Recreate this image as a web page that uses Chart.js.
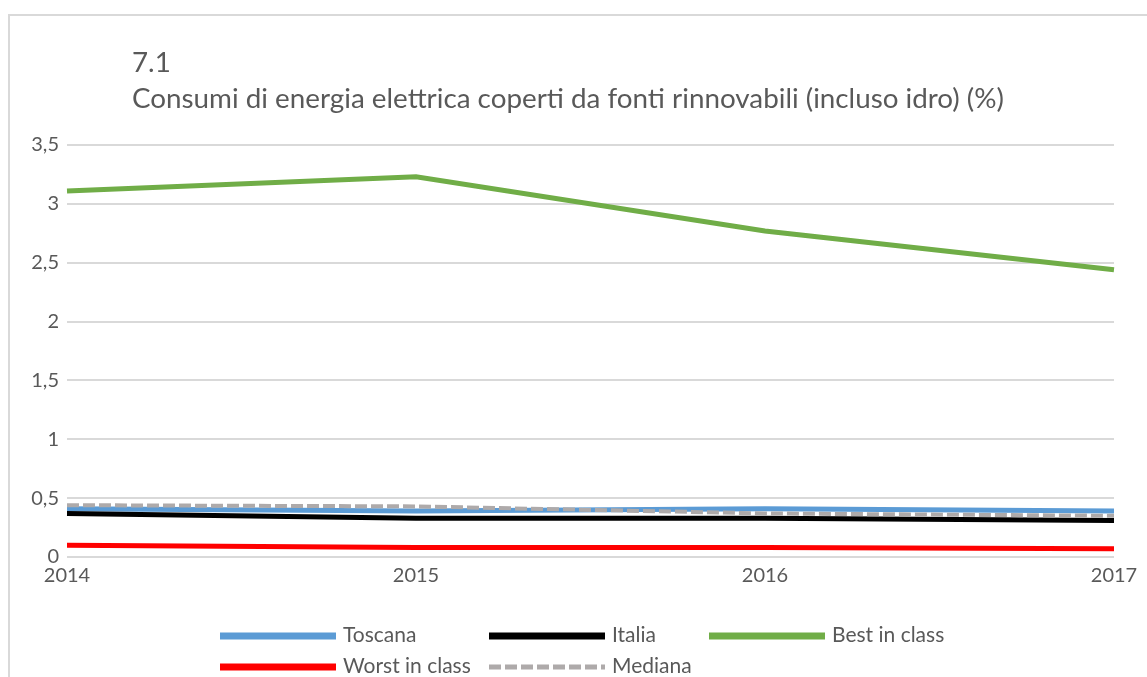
<!DOCTYPE html>
<html lang="it">
<head>
<meta charset="utf-8">
<title>7.1 Consumi di energia elettrica coperti da fonti rinnovabili</title>
<script src="https://cdn.jsdelivr.net/npm/chart.js@4/dist/chart.umd.min.js"></script>
<style>
  html, body { margin: 0; padding: 0; background: #ffffff; overflow: hidden; }
  #wrap { position: relative; width: 1147px; height: 677px; }
  #frame {
    position: absolute; left: 8px; top: 14px; width: 1200px; height: 700px;
    border: 2px solid #d9d9d9; box-sizing: border-box;
  }
  #chart { position: absolute; left: 0; top: 0; }
  .title {
    position: absolute; left: 132px; color: #595959; line-height: 1;
    font-family: Lato, "Open Sans", sans-serif; font-size: 27.8px; white-space: nowrap;
  }
</style>
</head>
<body>
<div id="wrap">
  <div id="frame"></div>
  <canvas id="chart" width="1147" height="677"></canvas>
  <div class="title" id="t1" style="top:48px;">7.1</div>
  <div class="title" id="t2" style="top:84px;">Consumi di energia elettrica coperti da fonti rinnovabili (incluso idro) (%)</div>
</div>
<script>
// Anni sull'asse orizzontale
const years = ['2014', '2015', '2016', '2017'];

// Quota di consumi coperti da fonti rinnovabili (%)
const toscana      = [0.41, 0.39, 0.41, 0.39];
const italia       = [0.37, 0.33, 0.33, 0.31];
const bestInClass  = [3.11, 3.23, 2.77, 2.44];
const worstInClass = [0.10, 0.08, 0.08, 0.07];
const mediana      = [0.44, 0.43, 0.37, 0.35];

// Etichette dell'asse verticale
const yTickValues = [0, 0.5, 1, 1.5, 2, 2.5, 3, 3.5];
const yTickLabels = ['0', '0,5', '1', '1,5', '2', '2,5', '3', '3,5'];

const FONT = 'Lato, "Open Sans", sans-serif';
const TEXT = '#595959';

// Legenda a griglia: due righe, colonne fisse
const legendLayout = {
  cols: [220, 489, 709],
  rows: [636, 667],
  lineLen: 116,
  gap: 7
};

const gridLegend = {
  id: 'gridLegend',
  afterDraw(chart) {
    const ctx = chart.ctx;
    const sets = chart.data.datasets;
    ctx.save();
    ctx.font = '21px ' + FONT;
    ctx.textBaseline = 'middle';
    ctx.textAlign = 'left';
    sets.forEach((ds, i) => {
      const col = i % 3, row = Math.floor(i / 3);
      const x = legendLayout.cols[col];
      const y = legendLayout.rows[row];
      ctx.beginPath();
      ctx.strokeStyle = ds.borderColor;
      ctx.lineWidth = ds.legendWidth || ds.borderWidth;
      ctx.setLineDash(ds.borderDash || []);
      ctx.lineCap = 'butt';
      ctx.moveTo(x, y);
      ctx.lineTo(x + legendLayout.lineLen, y);
      ctx.stroke();
      ctx.setLineDash([]);
      ctx.fillStyle = TEXT;
      ctx.fillText(ds.label, x + legendLayout.lineLen + legendLayout.gap, y - 1);
    });
    ctx.restore();
  }
};

const PAD = { left: 20, right: 33, top: 145, bottom: 88 };

const line = (label, data, color, width, order, extra) => Object.assign({
  label, data,
  borderColor: color, backgroundColor: color,
  borderWidth: width, pointRadius: 0, pointHoverRadius: 0,
  tension: 0, fill: false, order
}, extra || {});

new Chart(document.getElementById('chart'), {
  type: 'line',
  data: {
    labels: years,
    datasets: [
      line('Toscana', toscana, '#5b9bd5', 5, 5, { legendWidth: 7 }),
      line('Italia', italia, '#000000', 5, 4, { legendWidth: 7 }),
      line('Best in class', bestInClass, '#70ad47', 5, 3, { legendWidth: 7 }),
      line('Worst in class', worstInClass, '#ff0000', 5, 2, { legendWidth: 7 }),
      line('Mediana', mediana, '#aeaaaa', 4, 1, { borderDash: [12, 4], legendWidth: 5 })
    ]
  },
  options: {
    responsive: false,
    devicePixelRatio: 1,
    animation: false,
    layout: { padding: PAD },
    plugins: {
      legend: { display: false },
      title: { display: false },
      tooltip: { enabled: false }
    },
    scales: {
      x: {
        type: 'category',
        offset: false,
        grid: { display: false, drawTicks: false },
        border: { display: false },
        ticks: { color: TEXT, font: { family: FONT, size: 20 }, padding: 7, maxRotation: 0, autoSkip: false },
        afterFit(scale) { scale.height = 32; }
      },
      y: {
        min: 0, max: 3.5,
        afterBuildTicks(scale) { scale.ticks = yTickValues.map(v => ({ value: v })); },
        grid: { color: '#d9d9d9', lineWidth: 2, drawTicks: false },
        border: { display: false },
        ticks: {
          color: TEXT, font: { family: FONT, size: 20 }, padding: 8,
          callback: (v) => yTickLabels[yTickValues.indexOf(v)]
        },
        afterFit(scale) { scale.width = 67 - PAD.left; }
      }
    }
  },
  plugins: [gridLegend]
});
</script>
</body>
</html>
